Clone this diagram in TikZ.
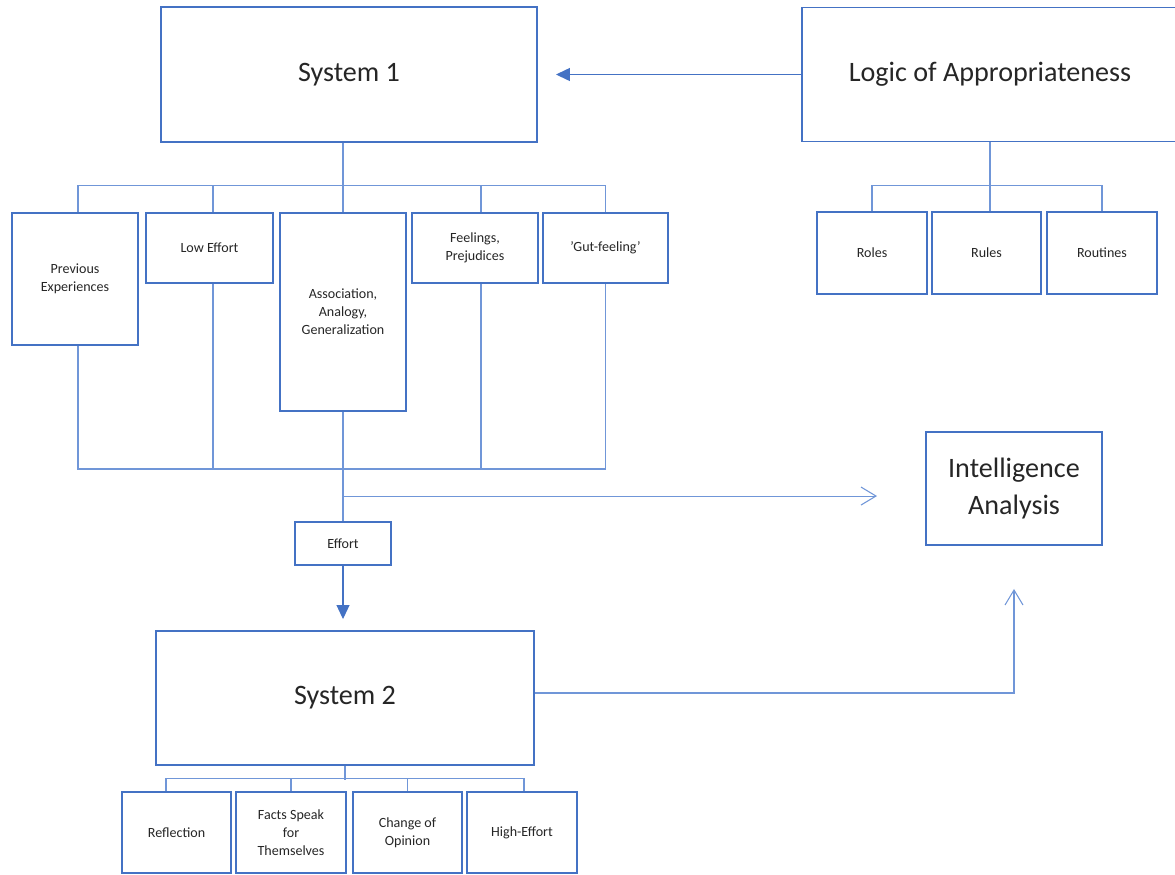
\documentclass[tikz,border=0pt]{standalone}
\usepackage{fontspec}
\setmainfont{Carlito}
\usetikzlibrary{arrows.meta}
\definecolor{boxblue}{HTML}{4472C4}
\definecolor{linkblue}{HTML}{7096D8}
\definecolor{textgray}{HTML}{262626}
\tikzset{
	box/.style={draw=boxblue, line width=1.1pt, inner sep=0pt, align=center, text=textgray},
	bigbox/.style={box, font=\fontsize{16}{21}\selectfont},
	smallbox/.style={box, font=\fontsize{8}{10.2}\selectfont},
	link/.style={draw=linkblue, line width=0.6pt},
	opentip/.style={-{Straight Barb[length=0.3cm,width=0.36cm]}},
	filltip/.style={-{Triangle[length=0.28cm,width=0.26cm]}}
}

\begin{document}
\begin{tikzpicture}[node distance=1.5cm, auto]
	\useasboundingbox (0,0) rectangle (23.5,-17.48);
	\node (sys1) [bigbox, minimum width=7.52cm, minimum height=2.7cm] at (6.98,-1.49) {System 1};
	\node (logic) [bigbox, minimum width=7.52cm, minimum height=2.68cm, node distance=12.82cm, right of=sys1] {Logic of Appropriateness};
	\node (prev) [smallbox, minimum width=2.52cm, minimum height=2.64cm] at (1.5,-5.58) {Previous\\Experiences};
	\node (low) [smallbox, minimum width=2.54cm, minimum height=1.4cm] at (4.19,-4.96) {Low Effort};
	\node (assoc) [smallbox, minimum width=2.52cm, minimum height=3.96cm] at (6.86,-6.24) {Association,\\Analogy,\\Generalization};
	\node (feel) [smallbox, minimum width=2.52cm, minimum height=1.4cm, node distance=5.31cm, right of=low] {Feelings,\\Prejudices};
	\node (gut) [smallbox, minimum width=2.5cm, minimum height=1.4cm, node distance=2.61cm, right of=feel] {’Gut-feeling’};
	\node (roles) [smallbox, minimum width=2.2cm, minimum height=1.64cm] at (17.44,-5.06) {Roles};
	\node (rules) [smallbox, minimum width=2.18cm, minimum height=1.64cm, node distance=2.29cm, right of=roles] {Rules};
	\node (routines) [smallbox, minimum width=2.2cm, minimum height=1.64cm, node distance=2.31cm, right of=rules] {Routines};
	\node (intel) [bigbox, minimum width=3.52cm, minimum height=2.26cm] at (20.28,-9.77) {Intelligence\\Analysis};
	\node (effort) [smallbox, minimum width=1.92cm, minimum height=0.86cm, node distance=4.63cm, below of=assoc] {Effort};
	\node (sys2) [bigbox, minimum width=7.56cm, minimum height=2.68cm] at (6.9,-13.96) {System 2};
	\node (refl) [smallbox, minimum width=2.18cm, minimum height=1.62cm] at (3.53,-16.65) {Reflection};
	\node (facts) [smallbox, minimum width=2.2cm, minimum height=1.62cm, node distance=2.29cm, right of=refl] {Facts Speak\\for\\Themselves};
	\node (change) [smallbox, minimum width=2.18cm, minimum height=1.62cm, node distance=2.33cm, right of=facts] {Change of\\Opinion};
	\node (high) [smallbox, minimum width=2.2cm, minimum height=1.62cm, node distance=2.29cm, right of=change] {High-Effort};

	\coordinate (s1tip) at ([xshift=0.36cm]sys1.east);
	\coordinate (split) at ([yshift=0.5cm]effort.north);
	\coordinate (itip) at ([xshift=-0.96cm]intel.west);
	\coordinate (i2tip) at ([yshift=-0.86cm]intel.south);
	\coordinate (s2tip) at ([yshift=0.22cm]sys2.north);

	\draw[link, draw=boxblue, line width=0.8pt, filltip, fill=boxblue] (logic.west) -- (s1tip |- logic.west);
	\draw[link] (assoc.north |- sys1.south) -- (assoc.north);
	\draw[link] ([xshift=0.06cm]prev.north) -- ++(0,0.54) -| (gut.north);
	\draw[link] ([xshift=0.07cm]low.north) -- ++(0,0.54);
	\draw[link] ([xshift=0.12cm]feel.north) -- ++(0,0.54);
	\draw[link] ([xshift=0.06cm]prev.south) -- ++(0,-2.46) coordinate (bot1) -| (gut.south);
	\draw[link] ([xshift=0.07cm]low.south) -- ([xshift=0.07cm]low.south |- bot1);
	\draw[link] ([xshift=0.12cm]feel.south) -- ([xshift=0.12cm]feel.south |- bot1);
	\draw[link] (assoc.south) -- (effort.north);
	\draw[link, opentip] (split) -- (itip |- split);
	\draw[link, draw=boxblue, filltip, fill=boxblue] (effort.south) -- (effort.south |- s2tip);
	\draw[link, opentip] ([yshift=0.1cm]sys2.east) -| (i2tip);
	\draw[link] (sys2.south) -- ++(0,-0.28);
	\draw[link] ([xshift=-0.21cm]refl.north) -- ++(0,0.26) -| ([xshift=0.04cm]high.north);
	\draw[link] (facts.north) -- ++(0,0.26);
	\draw[link] (change.north) -- ++(0,0.26);
	\draw[link] (logic.south) -- (logic.south |- rules.north);
	\draw[link] (roles.north) -- ++(0,0.52) -| (routines.north);
\end{tikzpicture}
\end{document}
